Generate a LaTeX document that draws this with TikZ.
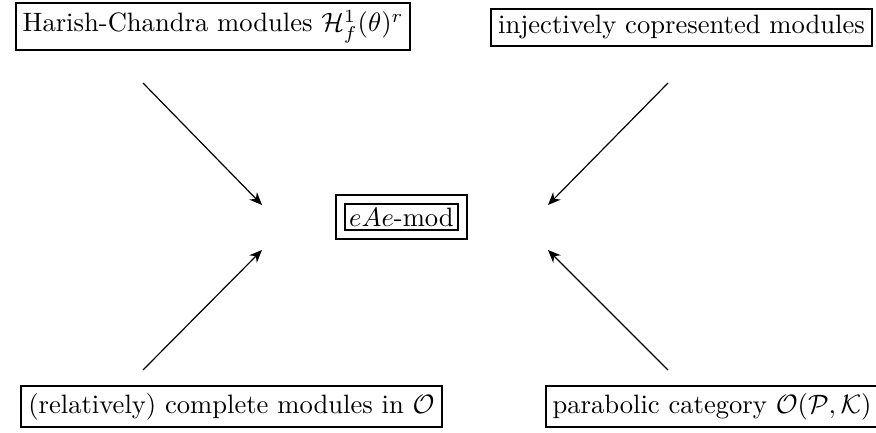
\documentclass[tikz,border=0pt]{standalone}
\usetikzlibrary{arrows.meta}
\begin{document}
\begin{tikzpicture}[x=0.376pt,y=-0.376pt,
  box/.style={draw,line width=0.75pt,inner sep=2.6pt,outer sep=0pt},
  dbox/.style={draw,line width=0.75pt,double,double distance=2.6pt,inner sep=3.2pt},
  arr/.style={line width=0.45pt,-{Stealth[length=4.8pt,width=4pt]}}]
\useasboundingbox (0,0) rectangle (876,433);
\node[box] (tl) at (213,26.5) {Harish-Chandra modules $\mathcal{H}^1_f(\theta)^r$};
\node[box] (tr) at (681.5,27.5) {injectively copresented modules};
\node[dbox] (c) at (401.5,217) {$eAe$-mod};
\node[box] (bl) at (231.5,406.5) {(relatively) complete modules in $\mathcal{O}$};
\node[box] (br) at (712,406.5) {parabolic category $\mathcal{O}(\mathcal{P},\mathcal{K})$};
\coordinate (a1s) at (143,83);  \coordinate (a1e) at (262,205);
\coordinate (a2s) at (668,83);  \coordinate (a2e) at (548,205);
\coordinate (a3s) at (143,370); \coordinate (a3e) at (262,250);
\coordinate (a4s) at (668,370); \coordinate (a4e) at (548,250);
\draw[arr] (a1s) -- (a1e);
\draw[arr] (a2s) -- (a2e);
\draw[arr] (a3s) -- (a3e);
\draw[arr] (a4s) -- (a4e);
\end{tikzpicture}
\end{document}
